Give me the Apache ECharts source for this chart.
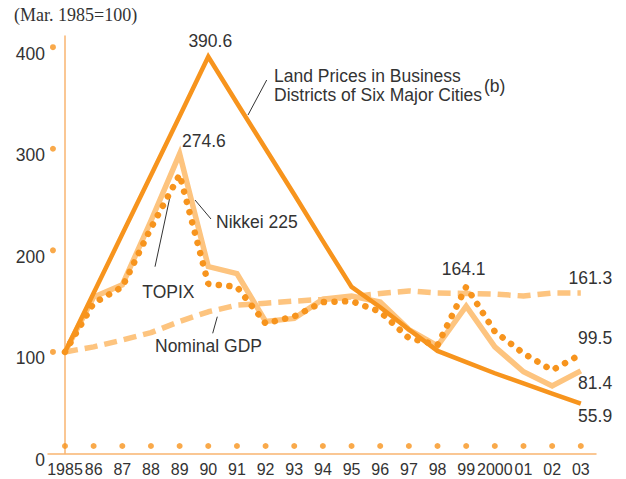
<!DOCTYPE html>
<html>
<head>
<meta charset="utf-8">
<script src="https://cdn.jsdelivr.net/npm/echarts@6/dist/echarts.min.js"></script>
<style>
  html, body { margin: 0; padding: 0; background: #fff; }
  #chart { width: 626px; height: 479px; }
</style>
</head>
<body>
<div id="chart"></div>
<script>
// tick labels on the year axis
var yearLabels = ['1985','86','87','88','89','90','91','92','93','94','95','96','97','98','99','2000','01','02','03'];
// series values (Mar. 1985 = 100)
var landPrices = [100, 158, 216, 274, 332, 390.6, 345, 300, 255, 209, 164, 144, 122, 101, 90, 79, 69, 59, 49];
var nikkei225  = [100, 154, 166, 229, 295, 184, 177, 130, 133, 152, 155, 149, 122, 106, 145, 105, 80.5, 66.5, 81.4];
var topix      = [100, 148, 164, 222, 274.6, 167, 164, 128, 135, 149, 150, 139.5, 113.6, 106.8, 164.1, 120, 98.6, 82, 97.6];
var nominalGdp = [100, 105, 111.7, 119, 130, 139.5, 146, 148, 150, 151.7, 154, 157.6, 160, 158, 157.6, 157, 155, 158, 158];
// y axis ticks (dots beside the axis)
var yTicks = [100, 200, 300, 400];
// value labels: series, year index, text
var valueLabels = [
    ['land', 5, '390.6'],
    ['topix', 4, '274.6'],
    ['topix', 14, '164.1'],
    ['gdp', 18, '161.3'],
    ['topix', 18, '99.5'],
    ['nikkei', 18, '81.4'],
    ['land', 18, '55.9']
];

var dark = '#333333';
var orange = '#f7941d';
var peach = '#fdc47f';
var axisColor = '#f9b570';
var sans = "'Liberation Sans', Arial, sans-serif";

function pairs(values) {
    var out = [];
    for (let i = 0; i < values.length; i++) out.push([i, values[i]]);
    return out;
}

var chart = echarts.init(document.getElementById('chart'), null, {renderer: 'svg'});

var idx = [];
for (let i = 0; i < yearLabels.length; i++) idx.push(i);

var bottomDots = idx.map(function (i) { return [i, 7.4]; });
var leftDots = yTicks.map(function (v) { return [-0.42, v]; });

var option = {
    animation: false,
    grid: { left: 48, right: 30, top: 36, bottom: 25.5, containLabel: false },
    xAxis: {
        type: 'value',
        min: -0.593,
        max: 18.53,
        axisLine: { show: true, lineStyle: { color: axisColor, width: 1.5 } },
        axisTick: { show: false },
        splitLine: { show: false },
        axisLabel: {
            customValues: idx,
            showMinLabel: true,
            showMaxLabel: true,
            hideOverlap: false,
            formatter: function (v) { return yearLabels[Math.round(v)]; },
            fontFamily: sans,
            fontSize: 16,
            color: dark,
            margin: 7.5
        }
    },
    yAxis: {
        type: 'value',
        min: 0,
        max: 411,
        interval: 100,
        axisLine: { show: true, lineStyle: { color: axisColor, width: 1.5 } },
        axisTick: { show: false },
        splitLine: { show: false },
        axisLabel: {
            showMaxLabel: false,
            fontFamily: sans,
            fontSize: 17.5,
            color: dark,
            margin: 3,
            verticalAlign: 'top',
            lineHeight: 13
        }
    },
    series: [
        {
            name: 'Nominal GDP', id: 'gdp', type: 'line', data: pairs(nominalGdp),
            symbol: 'none', z: 2,
            lineStyle: { color: peach, width: 5.5, type: [13, 7] }
        },
        {
            name: 'Nikkei 225', id: 'nikkei', type: 'line', data: pairs(nikkei225),
            symbol: 'none', z: 3,
            lineStyle: { color: peach, width: 5.5, join: 'miter' }
        },
        {
            name: 'Land Prices', id: 'land', type: 'line', data: pairs(landPrices),
            symbol: 'none', z: 4,
            lineStyle: { color: orange, width: 4.5, join: 'miter' }
        },
        {
            name: 'TOPIX', id: 'topix', type: 'line', data: pairs(topix),
            symbol: 'none', z: 5,
            lineStyle: { color: orange, width: 6.5, type: [0.1, 10.5], cap: 'round' }
        },
        {
            type: 'scatter', data: bottomDots, symbolSize: 6, z: 6,
            itemStyle: { color: orange }
        },
        {
            type: 'scatter', data: leftDots, symbolSize: 6, z: 6,
            itemStyle: { color: orange }
        }
    ]
};
chart.setOption(option);

// value labels placed next to their points
var seriesData = { land: landPrices, nikkei: nikkei225, topix: topix, gdp: nominalGdp };
var labelOffsets = {
    '390.6': [2, -16, 'center'],
    '274.6': [2.4, -34, 'left'],
    '164.1': [-2.6, -17.7, 'center'],
    '161.3': [-12.4, -15, 'left'],
    '99.5': [-2.7, -16.3, 'left'],
    '81.4': [-2.7, 12.3, 'left'],
    '55.9': [-2.7, 12, 'left']
};
var graphics = [];
for (let k = 0; k < valueLabels.length; k++) {
    var lab = valueLabels[k];
    var p = chart.convertToPixel({gridIndex: 0}, [lab[1], seriesData[lab[0]][lab[1]]]);
    var off = labelOffsets[lab[2]];
    graphics.push({
        type: 'text', x: p[0] + off[0], y: p[1] + off[1],
        style: { text: lab[2], fill: dark, font: '17.5px ' + sans, align: off[2], verticalAlign: 'middle' }
    });
}

function note(text, x, y, size, family) {
    return {
        type: 'text', x: x, y: y,
        style: { text: text, fill: dark, font: (size || 17.5) + 'px ' + (family || sans), align: 'left', verticalAlign: 'middle' }
    };
}
function leader(x1, y1, x2, y2) {
    return { type: 'line', shape: { x1: x1, y1: y1, x2: x2, y2: y2 }, style: { stroke: dark, lineWidth: 1 } };
}

graphics.push(note('(Mar. 1985=100)', 14, 15, 18, "'Liberation Serif', 'Times New Roman', serif"));
graphics.push(note('Land Prices in Business', 274, 76));
graphics.push(note('Districts of Six Major Cities', 274, 95));
graphics.push(note('(b)', 484, 86));
graphics.push(leader(266.7, 80, 248, 115));
graphics.push(note('Nikkei 225', 216, 222));
graphics.push(leader(195, 200, 211, 219));
graphics.push(note('TOPIX', 142.3, 292));
graphics.push(leader(170, 196.7, 155, 266.7));
graphics.push(note('Nominal GDP', 155, 345.5));
graphics.push(leader(217.3, 316.7, 212.7, 333.3));

chart.setOption({ graphic: graphics });
</script>
</body>
</html>
